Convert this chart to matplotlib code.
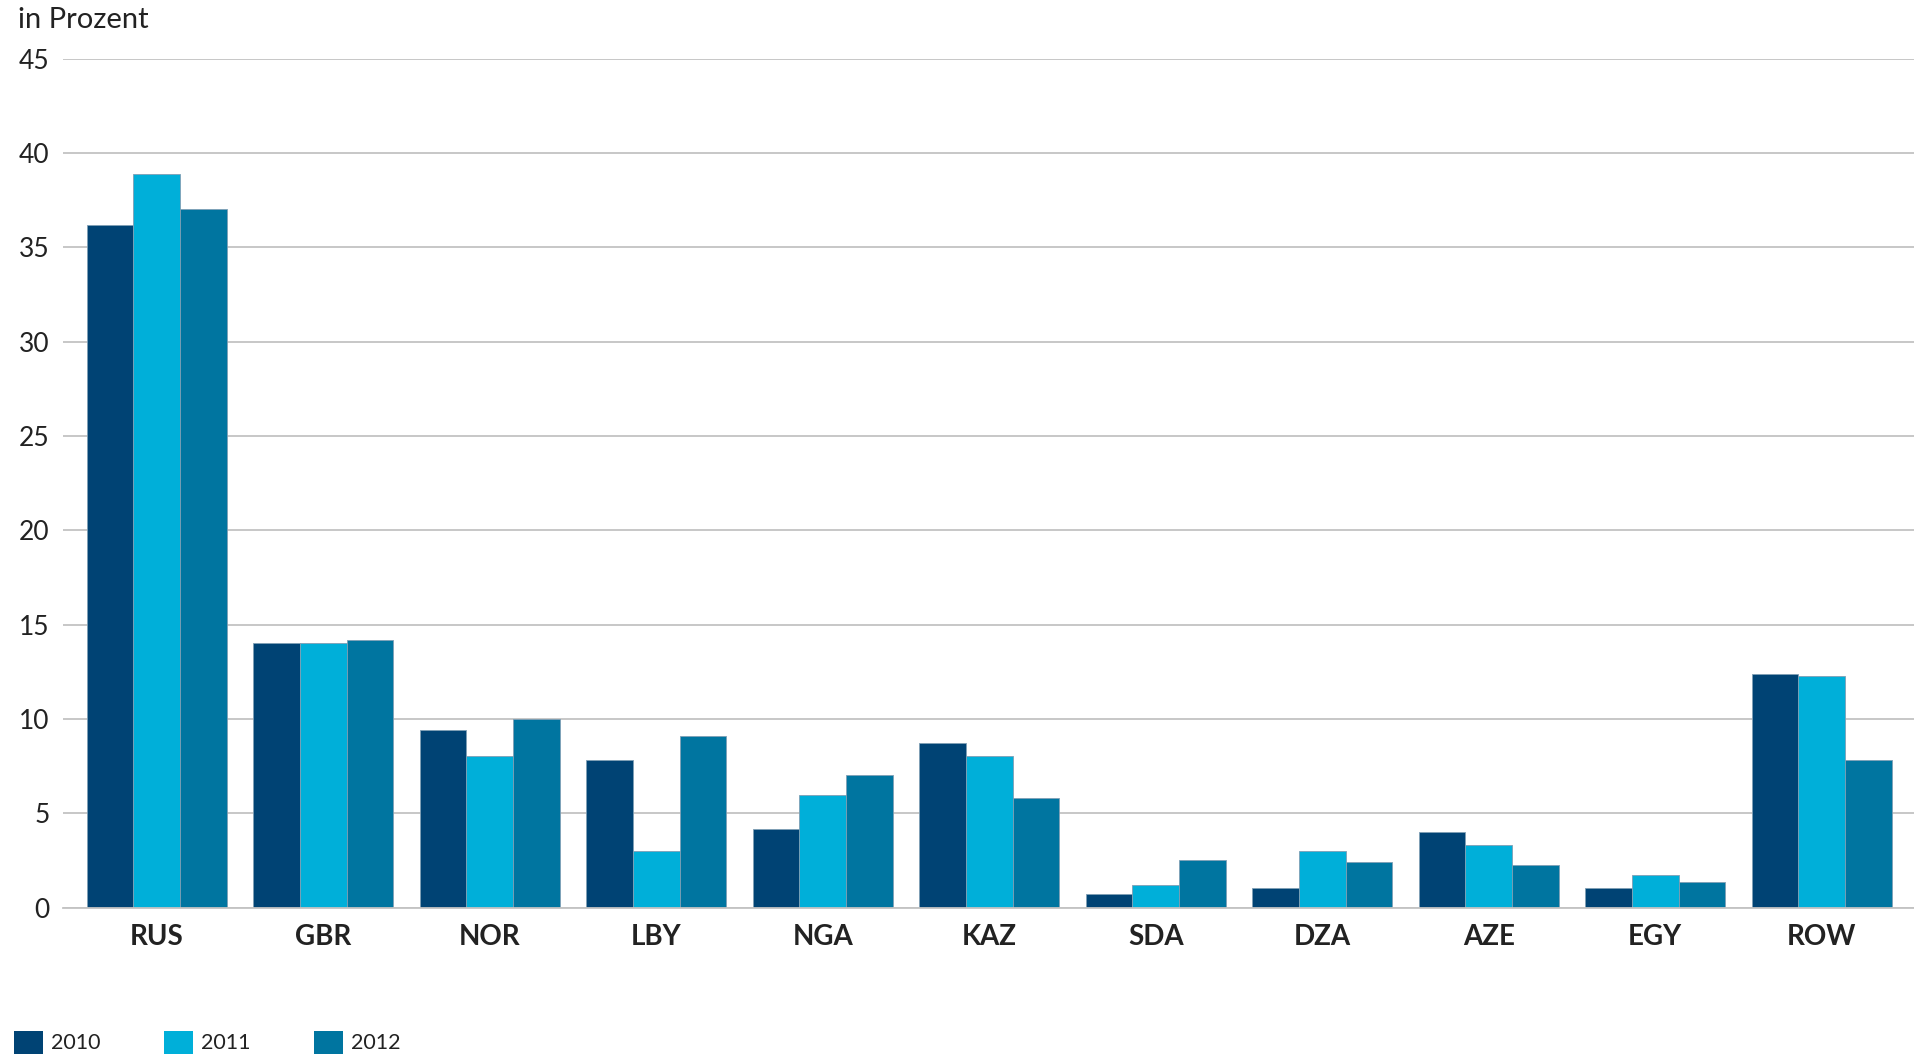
import numpy as np
import matplotlib.pyplot as plt
from matplotlib.patches import Rectangle

plt.rcParams["font.family"] = ["Lato", "DejaVu Sans"]

countries = ["RUS", "GBR", "NOR", "LBY", "NGA", "KAZ", "SDA", "DZA", "AZE", "EGY", "ROW"]
years = ["2010", "2011", "2012"]
v2010 = [36.2, 14.0, 9.4, 7.8, 4.15, 8.7, 0.7, 1.05, 4.0, 1.05, 12.4]
v2011 = [38.9, 14.0, 8.05, 3.0, 5.95, 8.05, 1.2, 3.0, 3.3, 1.7, 12.25]
v2012 = [37.05, 14.2, 10.0, 9.1, 7.0, 5.8, 2.5, 2.4, 2.25, 1.35, 7.8]
colors = ["#004374", "#00afd9", "#0075a0"]

W, H = 1915, 1054
fig = plt.figure(figsize=(W / 100, H / 100), dpi=100)
ax = fig.add_axes([63.5 / W, (H - 907.5) / H, 1 - 63.5 / W, (907.5 - 58.6) / H])

x = np.arange(len(countries))
bw = 0.28
for i, (vals, c) in enumerate(zip([v2010, v2011, v2012], colors)):
    ax.bar(x + (i - 1) * bw, vals, width=bw, color=c, edgecolor="#7f9fb5",
           linewidth=0.6, zorder=3)

ax.set_xlim(-0.56, len(countries) - 0.44)
ax.set_ylim(0, 45)
ax.set_yticks(np.arange(0, 46, 5))
ax.yaxis.grid(True, color="#c3c3c3", linewidth=1.3, zorder=0)
ax.set_axisbelow(True)
for s in ["top", "right", "left"]:
    ax.spines[s].set_visible(False)
ax.spines["bottom"].set_color("#c3c3c3")
ax.spines["bottom"].set_linewidth(1.3)
ax.spines["bottom"].set_zorder(4)
ax.tick_params(axis="both", length=0, colors="#222222")
ax.tick_params(axis="y", labelsize=19, pad=10)
ax.tick_params(axis="x", pad=12)
ax.set_xticks(x)
ax.set_xticklabels(countries, fontsize=20, fontweight="bold")

fig.text(18 / W, 1 - 20 / H, "in Prozent", fontsize=21, color="#222222", va="center", ha="left")

# legend along the bottom edge
for i, (lab, c) in enumerate(zip(years, colors)):
    x0 = 14 + i * 150
    fig.patches.append(Rectangle((x0 / W, 0), 29 / W, 23 / H, transform=fig.transFigure,
                                 facecolor=c, edgecolor="none"))
    fig.text((x0 + 37) / W, 11 / H, lab, fontsize=15.5, color="#222222", va="center", ha="left")

fig.savefig("out.png", dpi=100)
